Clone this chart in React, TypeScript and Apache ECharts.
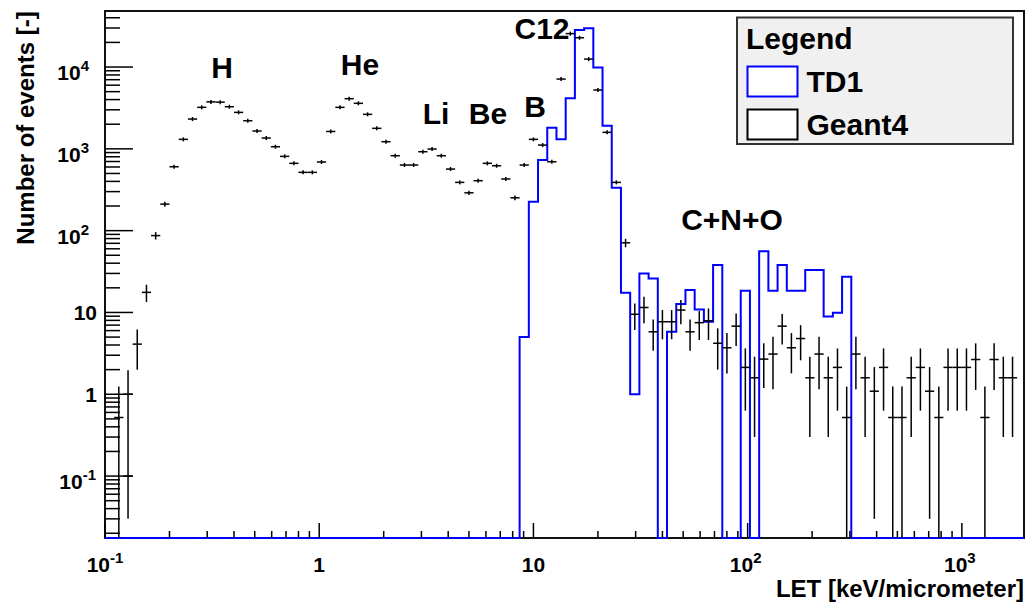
import React, { useEffect, useRef } from 'react';
import * as echarts from 'echarts';

// ---- axis ranges ----
const X_MIN = 0.1;
const X_MAX = 1950;
const Y_MIN = 0.0175;
const Y_MAX = 48400;

// ---- histogram binning (100 log bins from 0.1 to 2000 keV/um) ----
const BIN_LO = 0.1;
const BIN_HI = 2000;
const N_BINS = 100;

// ---- TD1 histogram, one value per bin (0 = empty bin) ----
const TD1_VALUES = [
  0, 0, 0, 0, 0, 0, 0, 0, 0, 0,
  0, 0, 0, 0, 0, 0, 0, 0, 0, 0,
  0, 0, 0, 0, 0, 0, 0, 0, 0, 0,
  0, 0, 0, 0, 0, 0, 0, 0, 0, 0,
  0, 0, 0, 0, 0, 5.0, 225, 730, 1810, 1306,
  4140, 28300, 29700, 9900, 1915, 335, 17.4, 1.0, 30, 26,
  0, 5.8, 12.7, 18.8, 10.9, 7.7, 38, 0, 0, 18.4,
  0, 56, 18.4, 38, 18.4, 18.4, 33, 33, 8.9, 9.9,
  27.3, 0, 0, 0, 0, 0, 0, 0, 0, 0,
  0, 0, 0, 0, 0, 0, 0, 0, 0, 0,
];

// ---- Geant4 points: bin index, value, error ----
const G4_BIN = [1, 2, 2, 3, 4, 5, 6, 7, 8, 9, 10, 11, 12, 13, 14, 15, 16, 17, 18, 19, 20, 21, 22, 23, 24, 25, 26, 27, 28, 29, 30, 31, 32, 33, 34, 35, 36, 37, 38, 39, 40, 41, 42, 43, 44, 45, 46, 47, 48, 49, 50, 51, 52, 53, 54, 55, 56, 57, 58, 59, 60, 61, 62, 63, 64, 65, 66, 67, 68, 69, 70, 71, 72, 73, 74, 75, 76, 77, 78, 79, 80, 81, 82, 83, 84, 85, 86, 87, 88, 89, 90, 91, 92, 93, 94, 95, 96, 97, 98];
const G4_VALUE = [0.52, 1.0, 0.1, 4.1, 17.6, 87, 211, 604, 1306, 2313, 3216, 3750, 3720, 3270, 2790, 2206, 1651, 1355, 1061, 809, 665, 516, 516, 690, 1630, 3216, 4100, 3600, 2641, 1781, 1222, 824, 634, 634, 922, 995, 824, 566, 389, 290, 408, 665, 621, 428, 252, 634, 1306, 1112, 695, 7130, 25600, 22800, 12500, 5236, 1591, 389, 71, 9.5, 11.5, 5.8, 7.7, 7.7, 10.7, 5.8, 7.5, 7.9, 4.2, 3.7, 6.8, 2.13, 1.59, 2.69, 3.1, 6.8, 3.7, 4.8, 1.59, 3.1, 1.59, 2.13, 0.52, 3.1, 1.59, 1.09, 2.13, 0.52, 0.52, 1.59, 2.13, 1.09, 0.52, 2.13, 2.13, 2.13, 2.66, 0.52, 2.66, 1.59, 1.59];
const G4_ERROR = [0.72, 0.97, 0, 2.1, 4.2, 9, 15, 25, 36, 48, 57, 61, 61, 57, 53, 47, 41, 37, 33, 28, 26, 23, 23, 26, 40, 57, 64, 60, 51, 42, 35, 29, 25, 25, 30, 32, 29, 24, 20, 17, 20, 26, 25, 21, 16, 25, 36, 33, 26, 84, 160, 151, 112, 72, 40, 20, 8.4, 3.4, 4.1, 2.4, 3.0, 3.0, 3.5, 2.4, 2.9, 3.3, 2.2, 1.9, 2.9, 1.5, 1.29, 1.5, 1.95, 2.75, 1.9, 2.2, 1.29, 1.95, 1.29, 1.5, 0.72, 1.95, 1.29, 1.06, 1.5, 0.72, 0.72, 1.29, 1.5, 1.06, 0.72, 1.5, 1.5, 1.5, 1.53, 0.72, 1.53, 1.29, 1.29];

// ---- tick labels (powers of ten) ----
const X_LABEL_EXP = [-1, 0, 1, 2, 3];
const Y_LABEL_EXP = [-1, 0, 1, 2, 3, 4];
const X_DECADES = [0.1, 1, 10, 100, 1000];
const Y_DECADES = [0.01, 0.1, 1, 10, 100, 1000, 10000];
const MINOR_MULT = [2, 3, 4, 5, 6, 7, 8, 9];

// ---- annotations ----
const PEAK_LABELS = ['H', 'He', 'Li', 'Be', 'B', 'C12', 'C+N+O'];
const PEAK_POS = [[222, 67], [360, 64], [436, 113], [488, 113], [535, 106], [542, 28], [732, 219]];

const FONT = '"Liberation Sans", Arial, Helvetica, sans-serif';

const binEdge = (i: number) => BIN_LO * Math.pow(BIN_HI / BIN_LO, i / N_BINS);

const expOf = (v: number, allowed: number[]) => {
  const l = Math.log10(v);
  const r = Math.round(l);
  if (Math.abs(l - r) > 1e-6 || allowed.indexOf(r) < 0) return null;
  return r;
};

const txt = { fontFamily: FONT, fontWeight: 'bold', color: '#000' };

export default function App() {
  const ref = useRef<HTMLDivElement>(null);

  useEffect(() => {
    if (!ref.current) return;
    const chart = echarts.init(ref.current, null, { renderer: 'svg' });

    // TD1 step outline
    const td1Steps: number[][] = [];
    TD1_VALUES.forEach((v, i) => {
      const a = binEdge(i);
      if (a >= X_MAX) return;
      const b = Math.min(binEdge(i + 1), X_MAX);
      const y = v > 0 ? v : Y_MIN;
      td1Steps.push([a, y], [b, y]);
    });

    const g4Data = G4_BIN.map((b, i) => [
      Math.sqrt(binEdge(b) * binEdge(b + 1)),
      G4_VALUE[i],
      binEdge(b),
      binEdge(b + 1),
      G4_ERROR[i],
    ]);

    const xTicks: number[][] = [];
    X_DECADES.forEach((d) => {
      xTicks.push([d, Y_MIN, 15]);
      MINOR_MULT.forEach((m) => {
        if (d * m <= X_MAX) xTicks.push([d * m, Y_MIN, 7]);
      });
    });
    const yTicks: number[][] = [];
    Y_DECADES.forEach((d) => {
      if (d >= Y_MIN) yTicks.push([X_MIN, d, 28]);
      MINOR_MULT.forEach((m) => {
        const v = d * m;
        if (v >= Y_MIN && v <= Y_MAX) yTicks.push([X_MIN, v, 15]);
      });
    });

    const tickStyle = { stroke: '#000', lineWidth: 1.5 };

    const yRich = {
      p: { ...txt, fontSize: 21, lineHeight: 21 },
      b: { ...txt, fontSize: 21, lineHeight: 21, padding: [11, 0, 0, 0] },
      s: { ...txt, fontSize: 15, lineHeight: 15, padding: [7, 8, 10, 0] },
      m: { ...txt, fontSize: 15, lineHeight: 15, padding: [7, 1, 10, 0] },
    };
    const xRich = {
      p: { ...txt, fontSize: 21, lineHeight: 21, padding: [11, 0, 0, 0] },
      b: { ...txt, fontSize: 21, lineHeight: 21, padding: [11, 0, 0, 0] },
      s: { ...txt, fontSize: 15, lineHeight: 15, padding: [7, 4, 10, 0] },
      m: { ...txt, fontSize: 15, lineHeight: 15, padding: [7, 0, 10, 0] },
    };

    const fmt = (allowed: number[]) => (v: number) => {
      const e = expOf(v, allowed);
      if (e === null) return '';
      if (e === 0) return '{p|1}';
      if (e === 1) return '{p|10}';
      return e < 0 ? `{b|10}{m|${e}}` : `{b|10}{s|${e}}`;
    };

    const option: any = {
      animation: false,
      backgroundColor: '#ffffff',
      grid: {
        left: 105, top: 11, width: 919, height: 527,
        show: true, borderColor: '#111', borderWidth: 2, backgroundColor: 'transparent',
      },
      xAxis: {
        type: 'log', logBase: 10, min: X_MIN, max: X_MAX,
        axisLine: { show: false }, axisTick: { show: false }, splitLine: { show: false },
        axisLabel: { formatter: fmt(X_LABEL_EXP), rich: xRich, margin: 10, showMinLabel: true, showMaxLabel: false },
      },
      yAxis: {
        type: 'log', logBase: 10, min: Y_MIN, max: Y_MAX,
        axisLine: { show: false }, axisTick: { show: false }, splitLine: { show: false },
        axisLabel: { formatter: fmt(Y_LABEL_EXP), rich: yRich, margin: 8, align: 'right' },
      },
      legend: {
        orient: 'vertical', left: 746.5, top: 65.5, padding: 0, itemWidth: 50, itemHeight: 30, itemGap: 11,
        selectedMode: false, z: 10,
        data: [
          { name: 'TD1', icon: 'rect', itemStyle: { color: '#ffffff', borderColor: '#0000ff', borderWidth: 2 } },
          { name: 'Geant4', icon: 'rect', itemStyle: { color: '#ffffff', borderColor: '#000000', borderWidth: 2 } },
        ],
        textStyle: { ...txt, fontSize: 30, lineHeight: 30, padding: [0, 0, 0, 4] },
      },
      graphic: [
        {
          type: 'rect', z: 5, shape: { x: 737, y: 17.5, width: 276, height: 126.5 },
          style: { fill: '#f0f0f0', stroke: '#333', lineWidth: 2 },
        },
        {
          type: 'text', z: 11, x: 746, y: 38,
          style: { text: 'Legend', font: `bold 30px ${FONT}`, fill: '#000', textAlign: 'left', textVerticalAlign: 'middle' },
        },
        ...PEAK_LABELS.map((t, i) => ({
          type: 'text', z: 11, x: PEAK_POS[i][0], y: PEAK_POS[i][1],
          style: { text: t, font: `bold 30px ${FONT}`, fill: '#000', textAlign: 'center', textVerticalAlign: 'middle' },
        })),
        {
          type: 'text', z: 11, x: 25, y: 128, rotation: Math.PI / 2,
          style: { text: 'Number of events [-]', font: `bold 24px ${FONT}`, fill: '#000', textAlign: 'center', textVerticalAlign: 'middle' },
        },
        {
          type: 'text', z: 11, x: 1024, y: 588,
          style: { text: 'LET [keV/micrometer]', font: `bold 24px ${FONT}`, fill: '#000', textAlign: 'right', textVerticalAlign: 'middle' },
        },
      ],
      series: [
        {
          name: 'TD1', type: 'line', data: td1Steps, symbol: 'none', showSymbol: false,
          lineStyle: { color: '#0000ff', width: 2, join: 'miter' }, itemStyle: { color: '#0000ff' },
          clip: false, z: 3, silent: true,
        },
        {
          name: 'Geant4', type: 'custom', data: g4Data, encode: { x: 0, y: 1 }, z: 4, silent: true,
          itemStyle: { color: '#000' },
          renderItem: (_p: any, api: any) => {
            const xc = api.value(0), v = api.value(1), lo = api.value(2), hi = api.value(3), e = api.value(4);
            const pl = api.coord([lo, v]);
            const pr = api.coord([hi, v]);
            const pc = api.coord([xc, v]);
            const children: any[] = [
              { type: 'line', shape: { x1: pl[0], y1: pl[1], x2: pr[0], y2: pr[1] }, style: tickStyle },
            ];
            if (e > 0) {
              let top = api.coord([xc, v + e])[1];
              const bv = v - e;
              let bot = api.coord([xc, bv > Y_MIN ? bv : Y_MIN])[1];
              top = Math.min(top, pc[1] - 2);
              bot = Math.max(bot, pc[1] + 2);
              children.push({ type: 'line', shape: { x1: pc[0], y1: top, x2: pc[0], y2: bot }, style: tickStyle });
            }
            return { type: 'group', children };
          },
        },
        {
          name: 'xticks', type: 'custom', data: xTicks, encode: { x: 0, y: 1 }, z: 6, silent: true,
          renderItem: (_p: any, api: any) => {
            const p = api.coord([api.value(0), api.value(1)]);
            return { type: 'line', shape: { x1: p[0], y1: p[1], x2: p[0], y2: p[1] - api.value(2) }, style: tickStyle };
          },
        },
        {
          name: 'yticks', type: 'custom', data: yTicks, encode: { x: 0, y: 1 }, z: 6, silent: true,
          renderItem: (_p: any, api: any) => {
            const p = api.coord([api.value(0), api.value(1)]);
            return { type: 'line', shape: { x1: p[0], y1: p[1], x2: p[0] + api.value(2), y2: p[1] }, style: tickStyle };
          },
        },
      ],
    };

    chart.setOption(option);
    return () => chart.dispose();
  }, []);

  return (
    <div
      ref={ref}
      style={{ position: 'fixed', left: 0, top: 0, width: 1028, height: 603, background: '#fff' }}
    />
  );
}
